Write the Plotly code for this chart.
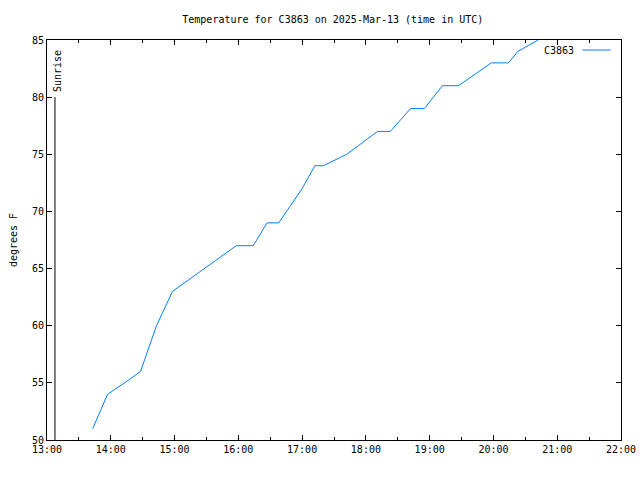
import plotly.graph_objects as go

day = "2025-03-13"
times = ["13:43", "13:57", "14:13", "14:28", "14:43", "14:58", "15:13", "15:28", "15:43", "15:58",
         "16:14", "16:27", "16:38", "17:00", "17:12", "17:20", "17:42", "17:57", "18:11",
         "18:23", "18:42", "18:55", "19:12", "19:27", "19:43", "19:58", "20:14", "20:23", "20:42"]
temps = [51, 54, 55, 56, 60, 63, 64, 65, 66, 67,
         67, 69, 69, 72, 74, 74, 75, 76, 77,
         77, 79, 79, 81, 81, 82, 83, 83, 84, 85]
station = "C3863"
sunrise_time = "13:07:30"
sunrise_top = 80
x_ticks = ["13:00", "14:00", "15:00", "16:00", "17:00", "18:00", "19:00", "20:00", "21:00", "22:00"]
y_range = [50, 85]

xs = [f"{day} {t}" for t in times]
font = dict(family="DejaVu Sans Mono, Liberation Mono, monospace", size=10, color="black")

fig = go.Figure()
fig.add_trace(go.Scatter(x=xs, y=temps, mode="lines", name=station,
                         line=dict(color="#0080ff", width=1), showlegend=False))

sx = f"{day} {sunrise_time}"
fig.add_shape(type="line", x0=sx, x1=sx, y0=y_range[0], y1=sunrise_top,
              xref="x", yref="y", line=dict(color="black", width=1))
fig.add_annotation(x=sx, y=sunrise_top, xref="x", yref="y", text="Sunrise",
                   textangle=-90, showarrow=False, xanchor="center", yanchor="bottom",
                   xshift=2, yshift=3, font=font)

# gnuplot-style legend: text then sample line
fig.add_annotation(x=0.922, y=0.975, xref="paper", yref="paper", text=station,
                   showarrow=False, xanchor="right", yanchor="middle", font=font)
fig.add_shape(type="line", xref="paper", yref="paper", x0=0.933, x1=0.982, y0=0.975, y1=0.975,
              line=dict(color="#0080ff", width=1))

fig.update_layout(
    width=640, height=480,
    margin=dict(l=47, r=19, t=40, b=40),
    paper_bgcolor="white", plot_bgcolor="white",
    font=font,
    title=dict(text=f"Temperature for {station} on 2025-Mar-13 (time in UTC)",
               x=0.52, xanchor="center", y=0.96, yanchor="middle", font=font),
    xaxis=dict(type="date", range=[f"{day} {x_ticks[0]}", f"{day} {x_ticks[-1]}"],
               tickvals=[f"{day} {t}" for t in x_ticks], ticktext=x_ticks,
               ticks="inside", ticklen=5, tickcolor="black", showgrid=False,
               showline=True, linecolor="black", linewidth=1, mirror="ticks",
               zeroline=False, tickfont=font, automargin=False,
               minor=dict(ticks="inside", ticklen=3, dtick=1800000, tickcolor="black", showgrid=False)),
    yaxis=dict(range=y_range, dtick=5, ticks="inside", ticklen=5, tickcolor="black",
               showgrid=False, showline=True, linecolor="black", linewidth=1, mirror="ticks",
               zeroline=False, tickfont=font, automargin=False,
               title=dict(text="degrees F", font=font, standoff=12)),
)

fig.write_html("out.html")
